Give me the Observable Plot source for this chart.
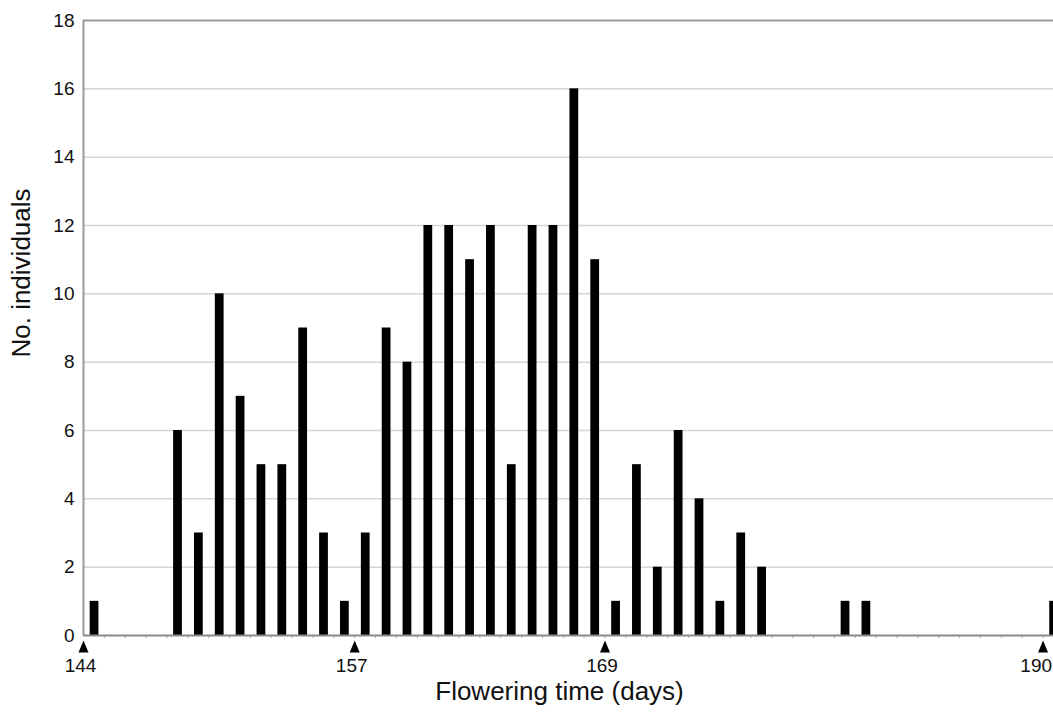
<!DOCTYPE html>
<html>
<head>
<meta charset="utf-8">
<script src="https://cdn.jsdelivr.net/npm/d3@7"></script>
<script src="https://cdn.jsdelivr.net/npm/@observablehq/plot@0.6"></script>
<style>
  html, body { margin: 0; padding: 0; background: #fff; overflow: hidden; }
  #chart svg { display: block; }
</style>
</head>
<body>
<div id="chart"></div>
<script>
// Flowering day (one bar per day) and number of individuals
const days = [144,145,146,147,148,149,150,151,152,153,154,155,156,157,158,159,160,161,162,163,164,165,166,167,168,169,170,171,172,173,174,175,176,177,178,179,180,181,182,183,184,185,186,187,188,189,190];
const counts = [1,0,0,0,6,3,10,7,5,5,9,3,1,3,9,8,12,12,11,12,5,12,12,16,11,1,5,2,6,4,1,3,2,0,0,0,1,1,0,0,0,0,0,0,0,0,1];
const markedDays = [144, 157, 169, 190];
const yTicks = [0, 2, 4, 6, 8, 10, 12, 14, 16, 18];
const xTitle = "Flowering time (days)";
const yTitle = "No. individuals";

const data = days.map((day, i) => ({day, count: counts[i]}));
const lastMarked = markedDays[markedDays.length - 1];

// upward-pointing marker triangle
const arrow = {
  draw(ctx) {
    ctx.moveTo(0, -6);
    ctx.lineTo(5, 6);
    ctx.lineTo(-5, 6);
    ctx.closePath();
  }
};

const chart = Plot.plot({
  width: 1053,
  height: 720,
  marginLeft: 83,
  marginRight: 0,
  marginTop: 20,
  marginBottom: 85,
  style: {fontFamily: "'Liberation Sans', Arial, sans-serif", color: "#111", background: "#fff"},
  x: {type: "linear", domain: [144, 190.5]},
  y: {domain: [0, 18]},
  marks: [
    Plot.gridY(yTicks.filter(v => v > 0 && v < 18), {stroke: "#d6d6d6", strokeOpacity: 1, strokeWidth: 1.5}),
    Plot.ruleY([18], {stroke: "#9a9a9a", strokeWidth: 2}),
    Plot.rectY(data, {x1: d => d.day + 0.32, x2: d => d.day + 0.74, y: "count", fill: "#000", clip: true}),
    Plot.axisX(days.slice(1), {tickSize: 3, tickFormat: () => "", stroke: "#aaa", label: null}),
    Plot.ruleY([0], {stroke: "#8a8a8a", strokeWidth: 2}),
    Plot.ruleX([144], {stroke: "#9a9a9a", strokeWidth: 2}),
    Plot.axisY(yTicks, {tickSize: 0, tickPadding: 9, fontSize: 19, label: null}),
    Plot.dot(markedDays, {x: d => d, frameAnchor: "bottom", dy: 11, symbol: arrow, r: 5, fill: "#000", stroke: "none"}),
    Plot.text(markedDays.filter(d => d !== lastMarked), {x: d => d, text: d => String(d), frameAnchor: "bottom", dy: 36, dx: -3, fontSize: 19, fill: "#111"}),
    Plot.text([lastMarked], {x: d => d, text: d => String(d), frameAnchor: "bottom", textAnchor: "end", dy: 36, dx: 9, fontSize: 19, fill: "#111"}),
    Plot.text([xTitle], {text: d => d, frameAnchor: "bottom", dy: 64, dx: -9, fontSize: 26, fill: "#111"}),
    Plot.text([yTitle], {text: d => d, frameAnchor: "left", textAnchor: "middle", dx: -62, dy: -55, rotate: -90, fontSize: 26, fill: "#111"})
  ]
});

document.getElementById("chart").append(chart);
</script>
</body>
</html>
